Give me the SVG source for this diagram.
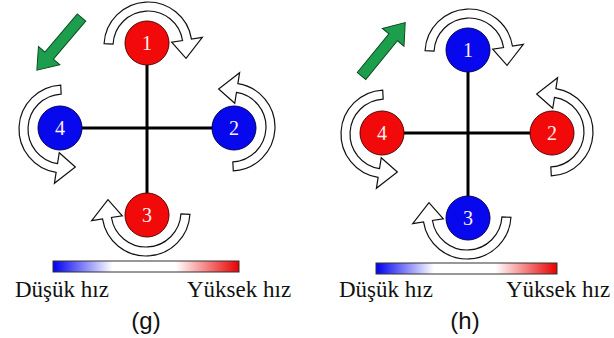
<svg xmlns="http://www.w3.org/2000/svg" xmlns:xlink="http://www.w3.org/1999/xlink" width="614" height="338" viewBox="0 0 614 338">
<style>
.bg{fill:#fff}
.cross{stroke:#000;stroke-width:3;fill:none}
.red{fill:#f20a0a;stroke:#5a0000;stroke-width:1}
.blue{fill:#0808ee;stroke:#00005a;stroke-width:1}
.num{font-family:"Liberation Serif",serif;font-size:20px;fill:#fff0f0;text-anchor:middle}
.rot{fill:#fff;stroke:#111;stroke-width:1.2;stroke-linejoin:miter}
.green{fill:#1c9e4c;stroke:#0c4a22;stroke-width:1}
.lbl{font-family:"Liberation Serif",serif;font-size:23px;fill:#111}
.cap{font-family:"Liberation Sans",sans-serif;font-size:24px;fill:#111;text-anchor:middle}
.bar{fill:url(#grad);stroke:#333;stroke-width:1}
</style>
<defs>
<linearGradient id="grad" x1="0" y1="0" x2="1" y2="0">
<stop offset="0" stop-color="#0000f0"/>
<stop offset="0.32" stop-color="#ffffff"/>
<stop offset="0.66" stop-color="#ffffff"/>
<stop offset="1" stop-color="#e80000"/>
</linearGradient>
<path id="rotarrow" class="rot" d="M -43.94,-2.30 A 44 44 0 0 1 43.46,-6.88 L 54.32,-8.60 L 38.04,12.36 L 23.70,-3.75 L 34.57,-5.47 A 35 35 0 0 0 -34.95,-1.83 Z"/>
<path id="garrow" class="green" d="M0,-5.5 L50,-5.5 L50,-14 L69,0 L50,14 L50,5.5 L0,5.5 Z"/>
</defs>
<rect class="bg" x="0" y="0" width="614" height="338"/>

<g id="connectors">
<line class="cross" x1="147" y1="64" x2="147" y2="194"/>
<line class="cross" x1="81" y1="128" x2="213" y2="128"/>
<line class="cross" x1="468" y1="71" x2="468" y2="197"/>
<line class="cross" x1="403" y1="133" x2="531" y2="133"/>
</g>

<g id="g-rotations">
<use xlink:href="#rotarrow" href="#rotarrow" transform="translate(147,43) translate(1,3)"/>
<use xlink:href="#rotarrow" href="#rotarrow" transform="translate(147,215) rotate(180) translate(1,3)"/>
<use xlink:href="#rotarrow" href="#rotarrow" transform="translate(234,128) rotate(90) scale(-1,1) translate(1,3)"/>
<use xlink:href="#rotarrow" href="#rotarrow" transform="translate(60,128) rotate(-90) scale(-1,1) translate(1,3)"/>
</g>

<g id="g-node1"><circle class="red" cx="147" cy="43" r="22"/><text class="num" x="147" y="50">1</text></g>
<g id="g-node2"><circle class="blue" cx="234" cy="128" r="22"/><text class="num" x="234" y="135">2</text></g>
<g id="g-node3"><circle class="red" cx="147" cy="215" r="22"/><text class="num" x="147" y="222">3</text></g>
<g id="g-node4"><circle class="blue" cx="60" cy="128" r="22"/><text class="num" x="60" y="135">4</text></g>

<g id="g-dir"><use xlink:href="#garrow" href="#garrow" transform="translate(81.5,17.5) rotate(130.3)"/></g>

<g id="g-legend">
<rect class="bar" x="53" y="261" width="186" height="11"/>
<text class="lbl" x="15" y="297">Düşük hız</text>
<text class="lbl" x="187" y="297">Yüksek hız</text>
<text class="cap" x="146" y="329">(g)</text>
</g>

<g id="h-rotations">
<use xlink:href="#rotarrow" href="#rotarrow" transform="translate(468,50) translate(1,3)"/>
<use xlink:href="#rotarrow" href="#rotarrow" transform="translate(468,218) rotate(180) translate(1,3)"/>
<use xlink:href="#rotarrow" href="#rotarrow" transform="translate(552,133) rotate(90) scale(-1,1) translate(1,3)"/>
<use xlink:href="#rotarrow" href="#rotarrow" transform="translate(382,133) rotate(-90) scale(-1,1) translate(1,3)"/>
</g>

<g id="h-node1"><circle class="blue" cx="468" cy="50" r="22"/><text class="num" x="468" y="57">1</text></g>
<g id="h-node2"><circle class="red" cx="552" cy="133" r="22"/><text class="num" x="552" y="140">2</text></g>
<g id="h-node3"><circle class="blue" cx="468" cy="218" r="22"/><text class="num" x="468" y="225">3</text></g>
<g id="h-node4"><circle class="red" cx="382" cy="133" r="22"/><text class="num" x="382" y="140">4</text></g>

<g id="h-dir"><use xlink:href="#garrow" href="#garrow" transform="translate(361.5,76) rotate(-50.7)"/></g>

<g id="h-legend">
<rect class="bar" x="376" y="263" width="181" height="11"/>
<text class="lbl" x="339" y="297">Düşük hız</text>
<text class="lbl" x="506" y="297">Yüksek hız</text>
<text class="cap" x="465" y="329">(h)</text>
</g>
</svg>
